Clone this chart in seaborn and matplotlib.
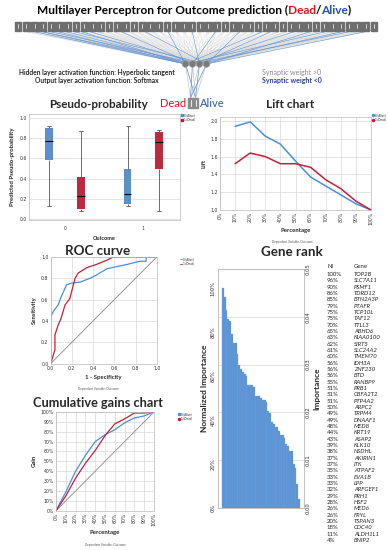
import numpy as np
import pandas as pd
import matplotlib.pyplot as plt
import seaborn as sns
from matplotlib.offsetbox import TextArea, HPacker, AnnotationBbox
from matplotlib.lines import Line2D
from matplotlib.patches import Rectangle, Circle

# ---- data ----
outcome = [0, 0, 1, 1]
group = ['0 (Alive)', '1 (Dead)', '0 (Alive)', '1 (Dead)']
# whisker low, q1, median, q3, whisker high
box_stats = [
    [0.13, 0.58, 0.77, 0.90, 0.92],
    [0.08, 0.10, 0.23, 0.42, 0.87],
    [0.13, 0.15, 0.25, 0.50, 0.92],
    [0.08, 0.50, 0.76, 0.86, 0.88],
]

lift_pct = [10, 20, 30, 40, 50, 60, 70, 80, 90, 100]
lift_alive = [1.94, 1.99, 1.83, 1.74, 1.55, 1.37, 1.27, 1.17, 1.07, 1.00]
lift_dead = [1.52, 1.64, 1.60, 1.52, 1.52, 1.48, 1.34, 1.24, 1.10, 1.00]

roc_alive_fpr = [0.0, 0.0, 0.025, 0.07, 0.10, 0.15, 0.20, 0.28, 0.37, 0.43, 0.53, 0.72, 0.84, 0.90, 0.90, 1.0]
roc_alive_tpr = [0.0, 0.44, 0.49, 0.55, 0.63, 0.74, 0.755, 0.765, 0.80, 0.83, 0.89, 0.93, 0.96, 0.96, 1.0, 1.0]
roc_dead_fpr = [0.0, 0.04, 0.04, 0.07, 0.10, 0.135, 0.18, 0.23, 0.26, 0.34, 0.43, 0.53, 0.59, 1.0]
roc_dead_tpr = [0.0, 0.13, 0.27, 0.36, 0.43, 0.55, 0.61, 0.80, 0.85, 0.90, 0.93, 0.97, 1.0, 1.0]

gain_pct = [0, 10, 20, 30, 40, 50, 60, 70, 80, 90, 100]
gain_alive = [0, 19, 40, 56, 70, 77, 82, 89, 94, 96, 100]
gain_dead = [0, 15, 33, 48, 61, 76, 88, 93, 99, 99, 100]

genes = ['TOP2B', 'SLC7A11', 'PSMF1', 'TDRD12', 'BTN2A3P', 'PTAFR', 'TCP10L', 'TAF12',
         'TTLL3', 'ABHD6', 'KIAA0100', 'SIRT5', 'SLC24A2', 'TMEM70', 'IDH3A', 'ZNF230',
         'BTD', 'RANBP9', 'PRB1', 'CBFA2T2', 'PTP4A2', 'ARPC2', 'TRPM4', 'DNAAF1', 'MED8',
         'KRT19', 'ASAP2', 'KLK10', 'NSDHL', 'AKIRIN1', 'ITK', 'ATPAF2', 'EVA1B', 'LPP',
         'ARFGEF1', 'PRH1', 'HSF2', 'MED6', 'FRYL', 'TSPAN3', 'CDC40', 'ALDH1L1', 'BNIP2']
ni = [100, 96, 90, 86, 85, 79, 75, 75, 70, 65, 63, 62, 61, 60, 56, 56, 56, 55, 51, 51,
      51, 50, 49, 49, 48, 44, 43, 39, 38, 37, 37, 35, 33, 33, 32, 29, 28, 26, 26, 20,
      18, 11, 4]
max_importance = 0.046

# synaptic weights < 0 : (input, hidden) and (hidden, output)
neg_in = [(1, 0), (2, 0), (2, 1), (3, 2), (4, 0), (5, 1), (6, 3), (7, 0), (8, 2), (12, 1),
          (15, 3), (18, 0), (21, 2), (24, 1), (27, 3), (30, 0), (31, 2), (34, 1), (36, 3),
          (38, 0), (40, 2), (41, 1), (43, 3)]
neg_out = [(0, 1), (1, 0), (2, 1), (3, 0)]

BLUE = '#4a8fdb'
RED = '#d3122f'
LINE_RED = '#c41e3a'
TICK_FONT = 'DejaVu Sans'

sns.set_style('whitegrid')
plt.rcParams['font.family'] = ['Lato', 'DejaVu Sans']
plt.rcParams['grid.color'] = '#d9d9d9'
plt.rcParams['grid.linewidth'] = 0.5

W, H = 388, 550
fig = plt.figure(figsize=(W / 100, H / 100), dpi=100)


def rect(x0, y0, x1, y1):
    return [x0 / W, 1 - y1 / H, (x1 - x0) / W, (y1 - y0) / H]


def style_axes(ax, size=3.3):
    ax.tick_params(labelsize=size, length=0, pad=1.5, labelcolor='#333333')
    for lab in ax.get_xticklabels() + ax.get_yticklabels():
        lab.set_fontfamily(TICK_FONT)
    for s in ax.spines.values():
        s.set_color('#bbbbbb')
        s.set_linewidth(0.5)


def tiny_legend(ax, x, y, marker):
    lw = 0 if marker == 's' else 0.6
    h = [Line2D([], [], color=BLUE, marker=marker, markersize=1.5, lw=lw),
         Line2D([], [], color=RED, marker=marker, markersize=1.5, lw=lw)]
    ax.legend(h, ['0 (Alive)', '1 (Dead)'], loc='upper left', bbox_to_anchor=(x / W, 1 - y / H),
              bbox_transform=fig.transFigure, fontsize=2.2, frameon=False, handlelength=0.8,
              handletextpad=0.3, borderpad=0, labelspacing=0.1)


# ---- background layer: network diagram and free text ----
bg = fig.add_axes([0, 0, 1, 1])
bg.set_xlim(0, W)
bg.set_ylim(H, 0)
bg.axis('off')

title = HPacker(children=[
    TextArea('Multilayer Perceptron for Outcome prediction (', textprops=dict(fontsize=8.6, fontweight='bold', color='black')),
    TextArea('Dead', textprops=dict(fontsize=8.6, fontweight='bold', color='#e3101e')),
    TextArea('/', textprops=dict(fontsize=8.6, fontweight='bold', color='black')),
    TextArea('Alive', textprops=dict(fontsize=8.6, fontweight='bold', color='#1f4fc4')),
    TextArea(')', textprops=dict(fontsize=8.6, fontweight='bold', color='black')),
], sep=0, pad=0)
bg.add_artist(AnnotationBbox(title, (194, 10), frameon=False, box_alignment=(0.5, 0.5)))

n_in = len(genes) + 1
in_x = np.linspace(18, 374, n_in)
hid_x = np.array([185.5, 192.5, 199.5, 206.5])
out_x = np.array([190.5, 195.5])
in_y, hid_y, out_y = 30, 64, 98

for i, xi in enumerate(in_x):
    for h, xh in enumerate(hid_x):
        if (i, h) not in neg_in:
            bg.plot([xi, xh], [in_y, hid_y], color='#dadada', lw=0.3, zorder=1)
for i, h in neg_in:
    bg.plot([in_x[i], hid_x[h]], [in_y, hid_y], color='#5b8fd0', lw=0.4, zorder=2)
for h, xh in enumerate(hid_x):
    for o, xo in enumerate(out_x):
        c = '#5b8fd0' if (h, o) in neg_out else '#c4c4c4'
        bg.plot([xh, xo], [hid_y, out_y], color=c, lw=0.5, zorder=2)

for xi in in_x:
    bg.add_patch(Rectangle((xi - 3.4, 22), 6.8, 8.5, color='#6e6e6e', zorder=3))
    bg.plot([xi, xi], [24, 28], color='white', lw=0.5, zorder=4)
for xh in hid_x:
    bg.add_patch(Circle((xh, hid_y), 3.3, facecolor='#7a7a7a', edgecolor='#a0a0a0', lw=0.5, zorder=4))
for xo in out_x:
    bg.add_patch(Rectangle((xo - 2.4, 98), 4.8, 10, color='#8a8a8a', zorder=4))
    bg.plot([xo, xo], [100, 106], color='white', lw=0.6, zorder=5)
bg.text(186.5, 103.5, 'Dead', color='#e3101e', fontsize=8, ha='right', va='center')
bg.text(199.5, 103.5, 'Alive', color='#2b55b8', fontsize=8, ha='left', va='center')

bg.text(97, 72, 'Hidden layer activation function: Hyperbolic tangent', fontsize=4.8,
        fontweight='bold', ha='center', va='center')
bg.text(97, 80, 'Output layer activation function: Softmax', fontsize=4.8,
        fontweight='bold', ha='center', va='center')
bg.text(262, 72, 'Synaptic weight >0', fontsize=5, color='#8a8a8a', ha='left', va='center')
bg.text(262, 80, 'Synaptic weight <0', fontsize=5, color='#2b3f9e', fontweight='bold', ha='left', va='center')

# panel titles
bg.text(99, 105, 'Pseudo-probability', fontsize=8.4, fontweight='bold', ha='center', va='center')
bg.text(290, 105, 'Lift chart', fontsize=8.6, fontweight='bold', ha='center', va='center')
bg.text(98, 251, 'ROC curve', fontsize=9.6, fontweight='bold', ha='center', va='center')
bg.text(98, 403, 'Cumulative gains chart', fontsize=9.2, fontweight='bold', ha='center', va='center')
bg.text(292, 252, 'Gene rank', fontsize=9.6, fontweight='bold', ha='center', va='center')

for x, y in [(292, 242), (98, 389), (105, 545)]:
    bg.text(x, y, 'Dependent Variable: Outcome', fontsize=2.2, color='#555555', ha='center', va='center')

# gene table
bg.text(327, 267, 'NI', fontsize=4.3, ha='left', va='center')
bg.text(354, 267, 'Gene', fontsize=4.3, ha='left', va='center')
for k, (g, v) in enumerate(zip(genes, ni)):
    y = 274.5 + k * 6.33
    bg.text(327, y, f'{v}%', fontsize=4.3, ha='left', va='center')
    bg.text(354, y, g, fontsize=4.3, ha='left', va='center', style='italic')

# ---- pseudo-probability boxplot ----
ax1 = fig.add_axes(rect(29, 114, 180, 220))
rows = []
for o, g, st in zip(outcome, group, box_stats):
    for v in st:
        rows.append({'Outcome': o, 'Group': g, 'value': v})
box_df = pd.DataFrame(rows)
sns.boxplot(data=box_df, x='Outcome', y='value', hue='Group', palette=[BLUE, RED], ax=ax1,
            width=0.8, gap=0.75, whis=(0, 100), linewidth=0.6, linecolor='#555555',
            medianprops=dict(color='black', lw=0.8), boxprops=dict(edgecolor='none'),
            legend=False)
ax1.set_xlim(-0.46, 1.47)
ax1.set_ylim(-0.01, 1.04)
ax1.set_yticks(np.arange(0, 1.01, 0.2))
ax1.xaxis.grid(False)
ax1.set_xlabel('Outcome', fontsize=4, fontweight='bold', labelpad=4)
ax1.set_ylabel('Predicted Pseudo-probability', fontsize=4.3, fontweight='bold', labelpad=3)
style_axes(ax1)
ax1.tick_params(axis='x', pad=4)
tiny_legend(ax1, 179, 112, 's')

# ---- lift chart ----
ax2 = fig.add_axes(rect(220, 117, 371, 210))
sns.lineplot(x=lift_pct, y=lift_alive, color=BLUE, lw=1.1, ax=ax2, clip_on=False)
sns.lineplot(x=lift_pct, y=lift_dead, color=LINE_RED, lw=1.1, ax=ax2, clip_on=False)
ax2.set_xlim(0, 100)
ax2.set_ylim(1.0, 2.045)
ax2.set_xticks(range(0, 101, 10))
ax2.set_xticklabels([f'{p}%' for p in range(0, 101, 10)], rotation=90)
ax2.set_yticks(np.arange(1.0, 2.01, 0.2))
ax2.set_xlabel('Percentage', fontsize=4.3, fontweight='bold', labelpad=2)
ax2.set_ylabel('Lift', fontsize=4.3, fontweight='bold', labelpad=3)
style_axes(ax2)
tiny_legend(ax2, 370, 112, 'o')

# ---- ROC curve ----
ax3 = fig.add_axes(rect(50.7, 257, 156.7, 363.6))
ax3.plot([0, 1], [0, 1], color='#888888', lw=0.6)
sns.lineplot(x=roc_alive_fpr, y=roc_alive_tpr, sort=False, estimator=None, color=BLUE, lw=0.9, ax=ax3)
sns.lineplot(x=roc_dead_fpr, y=roc_dead_tpr, sort=False, estimator=None, color=LINE_RED, lw=0.9, ax=ax3)
ax3.set_xlim(0, 1)
ax3.set_ylim(0, 1)
ax3.set_xticks(np.arange(0, 1.01, 0.2))
ax3.set_yticks(np.arange(0, 1.01, 0.2))
ax3.set_xlabel('1 - Specificity', fontsize=4.3, fontweight='bold', labelpad=3)
ax3.set_ylabel('Sensitivity', fontsize=4.3, fontweight='bold', labelpad=3)
style_axes(ax3)
tiny_legend(ax3, 178, 256, '')

# ---- cumulative gains ----
ax4 = fig.add_axes(rect(56, 412, 154, 510.7))
ax4.plot([0, 100], [0, 100], color='#888888', lw=0.6)
sns.lineplot(x=gain_pct, y=gain_alive, color=BLUE, lw=0.9, ax=ax4)
sns.lineplot(x=gain_pct, y=gain_dead, color=LINE_RED, lw=0.9, ax=ax4)
ax4.set_xlim(0, 100)
ax4.set_ylim(0, 100)
ax4.set_xticks(range(0, 101, 10))
ax4.set_xticklabels([f'{p}%' for p in range(0, 101, 10)], rotation=90)
ax4.set_yticks(range(0, 101, 10))
ax4.set_yticklabels([f'{p}%' for p in range(0, 101, 10)])
ax4.set_xlabel('Percentage', fontsize=4.3, fontweight='bold', labelpad=3)
ax4.set_ylabel('Gain', fontsize=4.3, fontweight='bold', labelpad=3)
style_axes(ax4)
tiny_legend(ax4, 176, 411, 'o')

# ---- gene rank ----
ax5 = fig.add_axes(rect(218, 269, 304, 508))
ax5r = ax5.twinx()
ax5.set_zorder(ax5r.get_zorder() + 1)
ax5.patch.set_visible(False)
sns.barplot(x=genes, y=ni, order=genes, color='#4a90e2', width=1.0, edgecolor='#6aa6ea',
            linewidth=0.2, ax=ax5)
ax5.set_xlim(-2.7, 44.7)
ax5.set_ylim(0, 100 * 0.05 / max_importance)
ax5.set_yticks(range(0, 101, 20))
ax5.set_yticklabels([f'{p}%' for p in range(0, 101, 20)], rotation=90, va='center')
ax5.set_xticks(range(len(genes)))
ax5.set_xticklabels([])
ax5.grid(False)
ax5.set_ylabel('Normalized Importance', fontsize=6, fontweight='bold', labelpad=2)
ax5r.set_ylim(0, 0.05)
ax5r.set_yticks(np.arange(0, 0.051, 0.01))
ax5r.set_yticklabels([f'{v:.2f}' for v in np.arange(0, 0.051, 0.01)], rotation=90, va='center')
ax5r.grid(True, axis='y')
ax5r.set_ylabel('Importance', fontsize=6, fontweight='bold', labelpad=2)
style_axes(ax5, 3.8)
style_axes(ax5r, 3.8)
ax5.tick_params(axis='x', length=1, width=0.3, color='#aaaaaa')

fig.savefig('out.png', dpi=100)
